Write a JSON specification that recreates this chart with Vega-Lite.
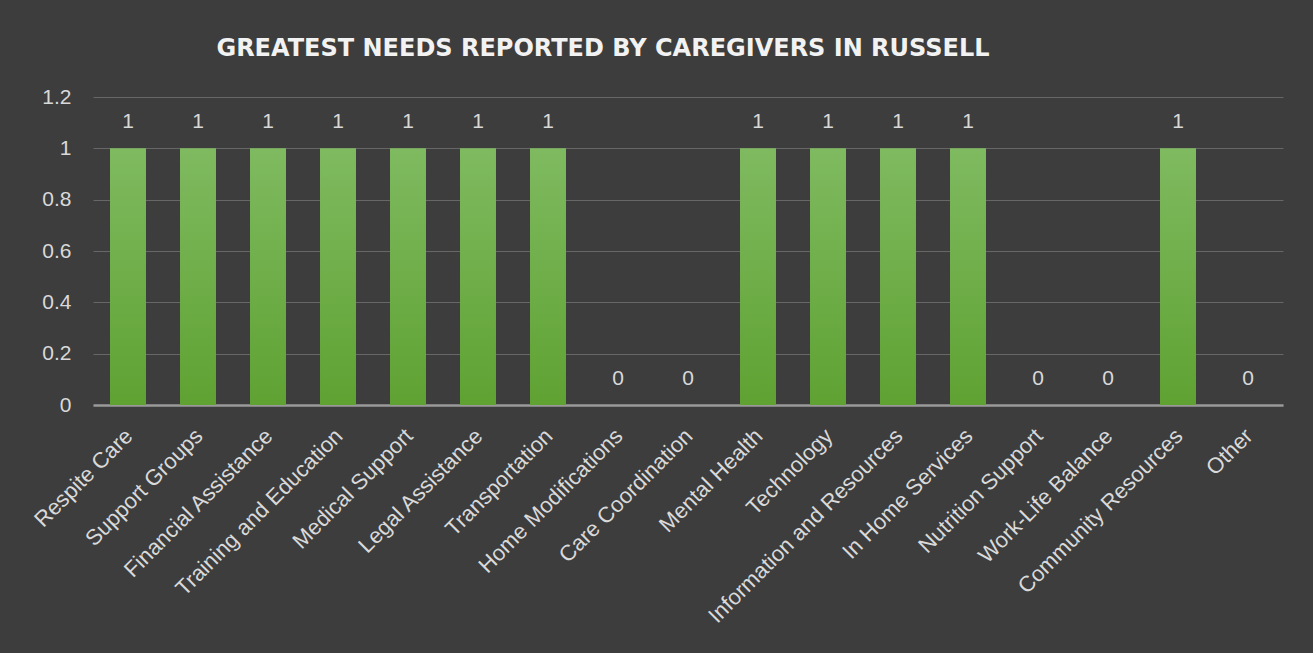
{
  "$schema": "https://vega.github.io/schema/vega-lite/v6.json",
  "autosize": {"type": "none"},
  "width": 1190,
  "height": 308,
  "padding": {"left": 93, "top": 97, "right": 30, "bottom": 248},
  "background": "#3d3d3d",
  "title": {
    "text": "GREATEST NEEDS REPORTED BY CAREGIVERS IN RUSSELL",
    "anchor": "middle",
    "dx": -85,
    "offset": 25,
    "font": "DejaVu Sans",
    "fontSize": 24,
    "fontWeight": "bold",
    "color": "#f2f2f2"
  },
  "data": {
    "values": [
      {"need": "Respite Care", "count": 1},
      {"need": "Support Groups", "count": 1},
      {"need": "Financial Assistance", "count": 1},
      {"need": "Training and Education", "count": 1},
      {"need": "Medical Support", "count": 1},
      {"need": "Legal Assistance", "count": 1},
      {"need": "Transportation", "count": 1},
      {"need": "Home Modifications", "count": 0},
      {"need": "Care Coordination", "count": 0},
      {"need": "Mental Health", "count": 1},
      {"need": "Technology", "count": 1},
      {"need": "Information and Resources", "count": 1},
      {"need": "In Home Services", "count": 1},
      {"need": "Nutrition Support", "count": 0},
      {"need": "Work-Life Balance", "count": 0},
      {"need": "Community Resources", "count": 1},
      {"need": "Other", "count": 0}
    ]
  },
  "encoding": {
    "x": {
      "field": "need",
      "type": "nominal",
      "sort": null,
      "title": null,
      "scale": {"paddingInner": 0.486, "paddingOuter": 0.243},
      "axis": {
        "labelAngle": -45,
        "labelFont": "Liberation Sans",
        "labelFontSize": 22,
        "labelColor": "#d9d9d9",
        "labelPadding": 20,
        "labelOffset": -6,
        "labelLimit": 0,
        "ticks": false,
        "domainColor": "#9a9a9a",
        "domainWidth": 2.5,
        "grid": false
      }
    },
    "y": {
      "field": "count",
      "type": "quantitative",
      "title": null,
      "scale": {"domain": [0, 1.2], "nice": false},
      "axis": {
        "values": [0, 0.2, 0.4, 0.6, 0.8, 1, 1.2],
        "format": "~g",
        "labelFont": "Liberation Sans",
        "labelFontSize": 21,
        "labelColor": "#d9d9d9",
        "labelPadding": 22,
        "ticks": false,
        "domain": false,
        "gridColor": "#676767",
        "gridWidth": 1
      }
    }
  },
  "layer": [
    {
      "mark": {
        "type": "bar",
        "color": {
          "gradient": "linear",
          "x1": 0, "y1": 0, "x2": 0, "y2": 1,
          "stops": [
            {"offset": 0, "color": "#7fba60"},
            {"offset": 1, "color": "#5fa232"}
          ]
        }
      }
    },
    {
      "mark": {
        "type": "text",
        "dy": -26,
        "font": "Liberation Sans",
        "fontSize": 21,
        "color": "#d9d9d9"
      },
      "encoding": {"text": {"field": "count", "type": "quantitative"}}
    }
  ],
  "config": {"view": {"stroke": null}}
}
